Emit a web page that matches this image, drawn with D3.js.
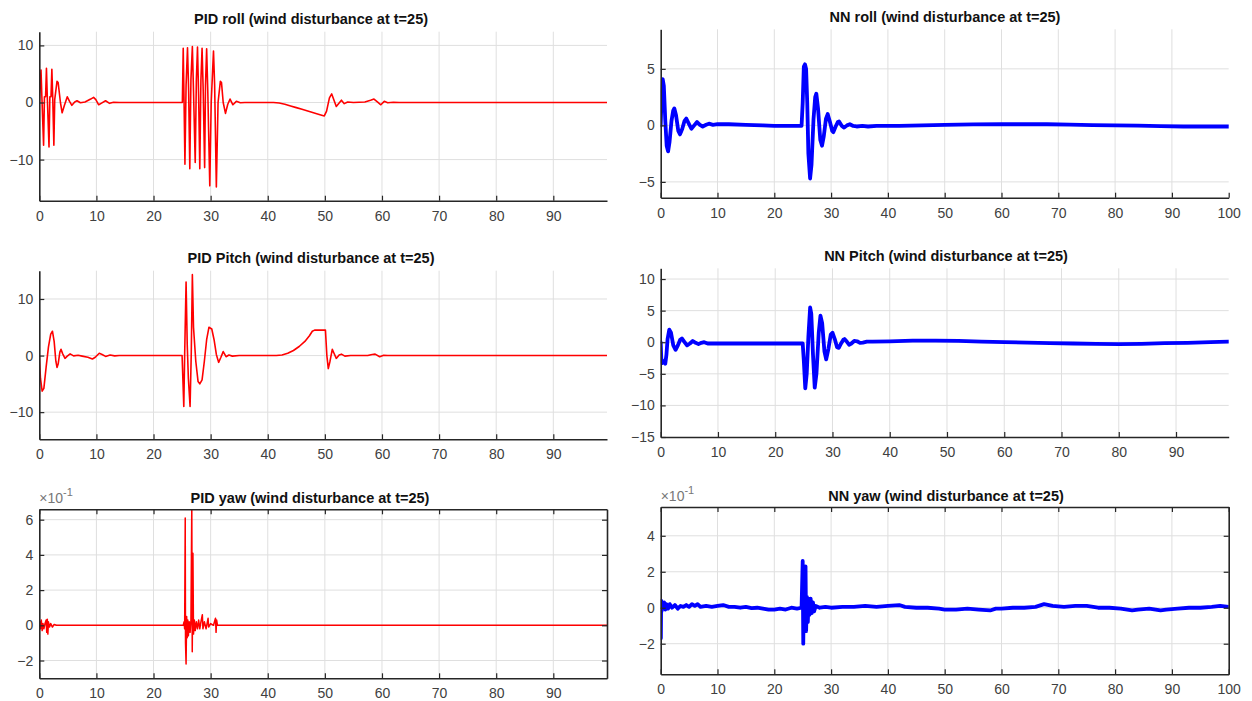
<!DOCTYPE html>
<html><head><meta charset="utf-8">
<script src="https://cdn.jsdelivr.net/npm/d3@7"></script>
<style>
body{margin:0;background:#fff;}
svg{display:block;font-family:"Liberation Sans",Arial,Helvetica,sans-serif;}
</style></head><body>
<svg id="chart" width="1252" height="701"></svg>
<script>
// ---------------- DATA ----------------
const titles = [
  "PID roll (wind disturbance at t=25)",
  "NN roll (wind disturbance at t=25)",
  "PID Pitch (wind disturbance at t=25)",
  "NN Pitch (wind disturbance at t=25)",
  "PID yaw (wind disturbance at t=25)",
  "NN yaw (wind disturbance at t=25)"
];
const xTicks90 = [0,10,20,30,40,50,60,70,80,90];
const xTicks100 = [0,10,20,30,40,50,60,70,80,90,100];
const pidRollYTicks = [-10,0,10];
const nnRollYTicks = [-5,0,5];
const pidPitchYTicks = [-10,0,10];
const nnPitchYTicks = [-15,-10,-5,0,5,10];
const pidYawYTicks = [-0.2,0,0.2,0.4,0.6];
const nnYawYTicks = [-0.2,0,0.2,0.4];

const pidRoll = [[0,0],[0.15,3],[0.3,5.7],[0.45,1],[0.75,-7.5],[0.9,1],[1.1,1],[1.25,6.0],[1.4,1],[1.7,-7.8],[1.85,1],[2.05,1],[2.2,5.8],[2.35,1],[2.55,-7.5],[2.7,0.5],[3.1,3.7],[3.3,3.5],[3.7,0],[4.0,-1.8],[4.4,-0.5],[4.9,1.0],[5.3,0.2],[5.7,-0.5],[6.2,0.1],[6.6,0.3],[7.2,-0.05],[8,0.1],[9,0.6],[9.5,0.9],[9.9,0.5],[10.4,-0.4],[10.9,-0.1],[11.6,0.3],[12.3,-0.15],[13,0.05],[14,0],[24.9,0],
 [25.05,0],[25.2,9.5],[25.35,0],[25.5,-10.8],[25.7,3],[25.95,9.6],[26.15,2],[26.35,-11.6],[26.55,4],[26.8,9.8],[27.0,2],[27.3,-10.5],[27.5,4],[27.7,9.7],[27.9,1],[28.1,-11.6],[28.3,4],[28.5,9.5],[28.7,2],[28.95,-11.4],[29.1,3],[29.3,9.4],[29.5,2],[29.85,-14.6],[30.1,0],[30.5,9.0],[30.7,3],[31.0,-14.8],[31.3,0],[31.7,3.7],[31.9,3.5],[32.2,0],[32.6,-1.9],[33.0,-0.3],[33.4,0.6],[33.9,-0.4],[34.5,0.2],[35.2,-0.05],[36,0],
 [41,0],[42,-0.1],[43,-0.3],[44,-0.6],[45,-0.9],[46,-1.2],[47,-1.5],[48,-1.8],[49,-2.1],[49.9,-2.35],[50.3,-1.5],[50.8,0.8],[51.2,1.5],[51.6,0.4],[52.0,-0.7],[52.5,-0.1],[52.9,0.4],[53.4,-0.2],[54,0.1],[55,0],[57,0.1],[58,0.4],[58.6,0.6],[59.2,0.1],[59.8,-0.4],[60.4,0.2],[61,-0.05],[62,0.05],[63,0],[99.4,0]];

const nnRoll = [[0,0],[0.15,2.5],[0.35,4.1],[0.55,3.5],[0.8,0.5],[1.05,-1.8],[1.3,-2.3],[1.55,-1.5],[1.9,0.4],[2.2,1.3],[2.4,1.5],[2.7,0.9],[3.1,-0.5],[3.4,-0.8],[3.8,-0.3],[4.2,0.4],[4.5,0.6],[4.9,0.2],[5.4,-0.3],[5.9,0],[6.4,0.3],[6.9,0.05],[7.4,-0.1],[8.0,0.05],[8.5,0.15],[9.2,0.05],[10,0.1],[12,0.1],[15,0.05],[18,0],[20,-0.05],[22,-0.05],[24.8,-0.05],
 [25.0,2.0],[25.2,5.2],[25.4,5.4],[25.6,5.0],[25.8,2.0],[26.0,-2.5],[26.3,-4.7],[26.55,-3.5],[26.9,0.5],[27.2,2.5],[27.4,2.8],[27.7,1.5],[28.1,-1.3],[28.4,-1.8],[28.7,-1.0],[29.1,0.6],[29.4,1.0],[29.8,0.3],[30.2,-0.5],[30.4,-0.6],[30.8,-0.1],[31.2,0.3],[31.4,0.35],[31.9,-0.05],[32.3,-0.2],[32.8,0],[33.3,0.1],[33.9,-0.05],[34.5,-0.1],[35.5,-0.05],[36.5,-0.1],[38,-0.05],[42,-0.05],[46,0],[50,0.05],[55,0.08],[60,0.1],[65,0.1],[68,0.1],[72,0.06],[76,0.03],[80,0],[84,-0.03],[88,-0.07],[92,-0.1],[96,-0.1],[100,-0.1]];

const pidPitch = [[0,0],[0.2,-4],[0.5,-6.3],[0.8,-5.8],[1.2,-2],[1.6,1.5],[2.0,3.8],[2.3,4.3],[2.6,2.5],[2.9,-1.0],[3.1,-2.1],[3.3,-1.5],[3.6,0.6],[3.8,1.1],[4.1,0.3],[4.5,-0.5],[4.9,-0.1],[5.4,0.3],[6.0,-0.05],[6.8,0.05],[7.5,-0.1],[8.5,-0.3],[9.3,-0.6],[9.8,-0.3],[10.5,0.4],[11.0,0.2],[11.6,-0.15],[12.4,0.1],[13.2,-0.05],[14,0],[25.0,0],
 [25.3,-9.0],[25.45,0],[25.7,13.0],[25.9,2],[26.1,-4],[26.4,-9.0],[26.6,0],[26.8,14.3],[27.0,5.0],[27.4,-1],[27.8,-4.6],[28.1,-5.0],[28.5,-4.3],[28.9,-1],[29.3,2.8],[29.7,5.0],[30.2,4.7],[30.6,2.8],[31.0,0.2],[31.4,-1.2],[31.8,-0.3],[32.2,0.7],[32.7,-0.2],[33.2,0.1],[33.8,-0.1],[35,0],
 [41.5,0],[42.5,0.1],[43.5,0.4],[44.5,0.9],[45.5,1.6],[46.5,2.5],[47.3,3.5],[47.8,4.3],[48.2,4.5],[50.1,4.5],[50.35,0],[50.6,-2.3],[50.9,-1.0],[51.3,1.1],[51.6,0.4],[52.0,-0.5],[52.5,0.1],[52.9,0.25],[53.5,-0.1],[54.5,0],[57.5,0],[58.3,0.2],[58.8,0.25],[59.6,-0.2],[60.3,0.05],[61,0],[99.4,0]];

const nnPitch = [[0,0],[0.1,-2.5],[0.25,-3.3],[0.5,-3.0],[0.8,-3.4],[1.0,-2],[1.2,0.5],[1.5,2.0],[1.8,1.5],[2.2,-0.5],[2.6,-1.2],[3.0,-0.5],[3.4,0.4],[3.7,0.6],[4.1,0.1],[4.6,-0.5],[5.1,-0.2],[5.6,0.2],[6.1,-0.1],[6.6,-0.3],[7.1,-0.1],[7.6,0],[8.2,-0.2],[12,-0.2],[18,-0.2],[24.8,-0.2],
 [25.0,-3],[25.25,-7.3],[25.5,-5],[25.8,1],[26.1,5.5],[26.3,4.5],[26.6,-2],[26.9,-7.2],[27.2,-5],[27.6,1.5],[27.9,4.2],[28.2,3],[28.6,-1.5],[28.9,-2.7],[29.3,-1],[29.7,1.2],[30.0,1.5],[30.4,0.5],[30.8,-0.8],[31.1,-0.9],[31.5,-0.2],[31.9,0.4],[32.1,0.5],[32.5,0.1],[32.9,-0.4],[33.3,-0.2],[33.8,0.2],[34.3,0.15],[34.8,-0.1],[35.3,-0.05],[36,0.1],[37,0.1],[40,0.15],[44,0.25],[48,0.25],[52,0.2],[56,0.1],[60,0],[64,-0.05],[68,-0.15],[72,-0.2],[76,-0.25],[80,-0.3],[84,-0.25],[88,-0.15],[92,-0.1],[96,0],[99.2,0.1]];

const pidYaw = [[0,0],[0.1,0.02],[0.2,-0.02],[0.35,0.03],[0.5,-0.03],[0.65,0.01],[0.8,-0.02],[1.0,0.01],[1.2,0.03],[1.3,-0.04],[1.4,0.035],[1.5,-0.05],[1.6,0.02],[1.8,-0.01],[2.0,0.01],[2.3,-0.01],[2.6,0.005],[3,0],[25.2,0],
 [25.35,0.02],[25.45,-0.02],[25.55,0.61],[25.6,-0.1],[25.7,-0.22],[25.8,0.05],[25.9,-0.07],[26.0,0.03],[26.1,-0.06],[26.25,0.02],[26.4,-0.04],[26.55,0.03],[26.7,0.68],[26.78,-0.15],[26.9,0.41],[27.0,-0.05],[27.15,0.03],[27.3,-0.03],[27.5,0.02],[27.7,-0.02],[27.9,0.03],[28.1,-0.02],[28.3,0.02],[28.55,0.06],[28.65,-0.02],[28.9,0.02],[29.2,-0.02],[29.55,0.04],[29.65,-0.01],[30.0,0.01],[30.5,0],[30.85,0.04],[30.95,-0.04],[31.05,0.03],[31.2,0],[99.4,0]];

const nnYaw = [[0,0],[0.03,-0.17],[0.08,0.04],[0.15,-0.02],[0.25,0.03],[0.4,0.0],[0.6,0.03],[0.8,-0.01],[1.0,0.02],[1.3,-0.005],[1.6,0.02],[2,0.0],[2.5,0.015],[3,-0.005],[3.5,0.01],[4,0.005],[4.5,0.015],[5,0.005],[5.5,0.02],[6,0.01],[6.5,0.02],[7,0.005],[8,0.01],[9,0.005],[10,0.01],[11,0.015],[12,0.005],[13,0.005],[14,0.0],[15,0.005],[16,-0.002],[17,0.0],[18,-0.005],[19,-0.01],[20,-0.01],[21,-0.005],[22,-0.01],[23,0.0],[24,-0.005],[24.8,0.0],
 [25.0,0.26],[25.1,-0.2],[25.2,0.1],[25.35,-0.12],[25.5,0.23],[25.6,-0.13],[25.75,0.06],[25.9,-0.08],[26.05,0.05],[26.2,-0.04],[26.4,0.05],[26.6,-0.03],[26.8,0.03],[27.0,-0.02],[27.3,0.01],[28,0.0],[29,0.005],[30,0.0],[32,0.005],[34,0.005],[36,0.01],[38,0.005],[40,0.01],[42,0.015],[43,0.005],[45,0.0],[47,0.0],[49,-0.005],[50,-0.01],[52,-0.01],[54,-0.005],[56,-0.01],[58,-0.015],[59,-0.005],[60,-0.005],[62,0.0],[64,0.0],[66,0.005],[67.5,0.02],[69,0.01],[71,0.005],[73,0.01],[75,0.01],[77,0.0],[79,0.0],[81,-0.005],[83,-0.015],[84,-0.01],[86,-0.005],[88,-0.015],[89,-0.01],[91,-0.005],[93,0.0],[95,0.0],[97,0.005],[98.5,0.01],[100,0.005]];

// ---------------- LAYOUT ----------------
const panels = [
  {title:titles[0], data:pidRoll,  xd:[0,99.4], yd:[-17.2,12.4], xt:xTicks90,  yt:pidRollYTicks,  l:39.3, r:607,    t:31.7,  b:200.7, tx:311, ty:24,  color:"#ff0000", w:1.6, box:false},
  {title:titles[1], data:nnRoll,   xd:[0,100],  yd:[-6.4,8.5],   xt:xTicks100, yt:nnRollYTicks,   l:660.7, r:1228.7, t:29.3, b:197.7, tx:945, ty:22,  color:"#0000ff", w:3.8, box:false},
  {title:titles[2], data:pidPitch, xd:[0,99.4], yd:[-14.8,15],   xt:xTicks90,  yt:pidPitchYTicks, l:39.3, r:607,    t:270.7, b:439.3, tx:311, ty:263, color:"#ff0000", w:1.6, box:false},
  {title:titles[3], data:nnPitch,  xd:[0,99.2], yd:[-15,11.7],   xt:xTicks90,  yt:nnPitchYTicks,  l:660.7, r:1228.7, t:268.3, b:437, tx:946, ty:261, color:"#0000ff", w:3.8, box:false},
  {title:titles[4], data:pidYaw,   xd:[0,99.4], yd:[-0.301,0.659], xt:xTicks90, yt:pidYawYTicks,  l:39.3, r:607,    t:509.3, b:678.3, tx:310, ty:503, color:"#ff0000", w:1.5, box:true, exp:true},
  {title:titles[5], data:nnYaw,    xd:[0,100],  yd:[-0.37,0.56], xt:xTicks100, yt:nnYawYTicks,    l:660.7, r:1228.7, t:507, b:674.3, tx:946, ty:501, color:"#0000ff", w:3.8, box:true, exp:true}
];

const svg = d3.select("#chart");
const axisColor = "#262626";
const gridColor = "#dfdfdf";

panels.forEach((p, i) => {
  const g = svg.append("g");
  const x = d3.scaleLinear().domain(p.xd).range([p.l, p.r]);
  const y = d3.scaleLinear().domain(p.yd).range([p.b, p.t]);
  const fmt = p.exp ? (d => d3.format("d")(Math.round(d * 10))) : d3.format("d");

  // grid
  g.selectAll(".gx").data(p.xt.filter(v => v > p.xd[0] && v < p.xd[1])).join("line")
    .attr("x1", d => x(d)).attr("x2", d => x(d)).attr("y1", p.t).attr("y2", p.b)
    .attr("stroke", gridColor).attr("stroke-width", 1);
  g.selectAll(".gy").data(p.yt.filter(v => v > p.yd[0] && v < p.yd[1])).join("line")
    .attr("x1", p.l).attr("x2", p.r).attr("y1", d => y(d)).attr("y2", d => y(d))
    .attr("stroke", gridColor).attr("stroke-width", 1);

  // clip
  const cid = "clip" + i;
  svg.append("clipPath").attr("id", cid).append("rect")
    .attr("x", p.l).attr("y", p.t).attr("width", p.r - p.l).attr("height", p.b - p.t);

  const line = d3.line().x(d => x(d[0])).y(d => y(d[1]));
  g.append("path").datum(p.data).attr("d", line)
    .attr("clip-path", `url(#${cid})`)
    .attr("fill", "none").attr("stroke", p.color).attr("stroke-width", p.w)
    .attr("stroke-linejoin", "round").attr("stroke-linecap", "round");

  // axes
  const styleAxis = (sel, labels) => {
    sel.select(".domain").attr("stroke", axisColor).attr("stroke-width", 1.6);
    sel.selectAll(".tick line").attr("stroke", axisColor).attr("stroke-width", 1.2);
    sel.selectAll(".tick text").attr("fill", "#404040").style("font-size", "14px")
      .style("font-family", '"Liberation Sans", Arial, sans-serif');
    if (!labels) sel.selectAll(".tick text").remove();
  };
  const xb = g.append("g").attr("transform", `translate(0,${p.b})`)
    .call(d3.axisBottom(x).tickValues(p.xt).tickSizeInner(-5).tickSizeOuter(0).tickPadding(10).tickFormat(d3.format("d")));
  styleAxis(xb, true);
  const yl = g.append("g").attr("transform", `translate(${p.l},0)`)
    .call(d3.axisLeft(y).tickValues(p.yt).tickSizeInner(-5).tickSizeOuter(0).tickPadding(6).tickFormat(fmt));
  styleAxis(yl, true);
  if (p.box) {
    const xt = g.append("g").attr("transform", `translate(0,${p.t})`)
      .call(d3.axisTop(x).tickValues(p.xt).tickSizeInner(-5).tickSizeOuter(0));
    styleAxis(xt, false);
    const yr = g.append("g").attr("transform", `translate(${p.r},0)`)
      .call(d3.axisRight(y).tickValues(p.yt).tickSizeInner(-5).tickSizeOuter(0));
    styleAxis(yr, false);
  }

  // exponent label
  if (p.exp) {
    const t = g.append("text").attr("x", p.l).attr("y", p.ty).attr("fill", "#777")
      .style("font-size", "14px");
    t.append("tspan").text("\u00d710");
    t.append("tspan").attr("dy", -7).style("font-size", "11px").text("-1");
  }

  // title
  g.append("text").attr("x", p.tx).attr("y", p.ty)
    .attr("text-anchor", "middle").attr("fill", "#111")
    .style("font-size", "14.5px").style("font-weight", "bold")
    .text(p.title);
});
</script></body></html>
